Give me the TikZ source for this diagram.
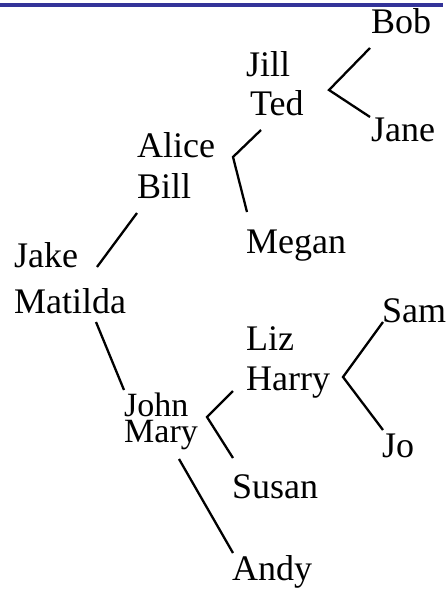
\documentclass[tikz,border=0pt]{standalone}
\usepackage{fontspec}
\setmainfont{Liberation Serif}
\definecolor{barblue}{RGB}{51,51,153}
\begin{document}
\begin{tikzpicture}[x=1pt,y=-1pt,
  person/.style={anchor=base west,inner sep=0pt,font=\fontsize{36}{36}\selectfont},
  couple/.style={anchor=north west,inner sep=0pt,align=left,font=\fontsize{34}{26}\selectfont},
  link/.style={line width=2.3pt,line cap=butt,line join=miter}]
\useasboundingbox (0,0) rectangle (446,589);
\clip (0,0) rectangle (446,589);
\fill[barblue] (0,3) rectangle (443,6.5);
% names
\node[person] (bob) at (371,33) {Bob};
\node[person] (jill) at (246,76) {Jill};
\node[person] (ted) at (250,115) {Ted};
\node[person] (jane) at (371,141) {Jane};
\node[person] (alice) at (137,157) {Alice};
\node[person] (bill) at (137,198) {Bill};
\node[person] (megan) at (246,253) {Megan};
\node[person] (jake) at (14,267) {Jake};
\node[person] (matilda) at (14,313) {Matilda};
\node[person] (sam) at (382,322) {Sam};
\node[person] (liz) at (246,350) {Liz};
\node[person] (harry) at (246,390) {Harry};
\node[couple] (johnmary) at (124,393) {John\\Mary};
\node[person] (jo) at (382,457) {Jo};
\node[person] (susan) at (232,498) {Susan};
\node[person] (andy) at (232,580) {Andy};
% connector ends
\coordinate (tedV) at (329,90);
\coordinate (bobE) at (370,48);
\coordinate (janeE) at (370,117);
\coordinate (billV) at (233,157);
\coordinate (tedE) at (261,130);
\coordinate (meganE) at (247,212);
\coordinate (jakeE) at (97,267);
\coordinate (billE) at (137,213);
\coordinate (matildaE) at (96,322);
\coordinate (johnE) at (124,390);
\coordinate (maryV) at (207,417);
\coordinate (harryE) at (233,391);
\coordinate (susanE) at (233,458);
\coordinate (maryE) at (179,459);
\coordinate (andyE) at (233,553);
\coordinate (harryV) at (343,377);
\coordinate (samE) at (383,322);
\coordinate (joE) at (383,430);
% connectors
\draw[link] (bobE) -- (tedV) -- (janeE);
\draw[link] (tedE) -- (billV) -- (meganE);
\draw[link] (jakeE) -- (billE);
\draw[link] (matildaE) -- (johnE);
\draw[link] (harryE) -- (maryV) -- (susanE);
\draw[link] (maryE) -- (andyE);
\draw[link] (samE) -- (harryV) -- (joE);
\end{tikzpicture}
\end{document}
